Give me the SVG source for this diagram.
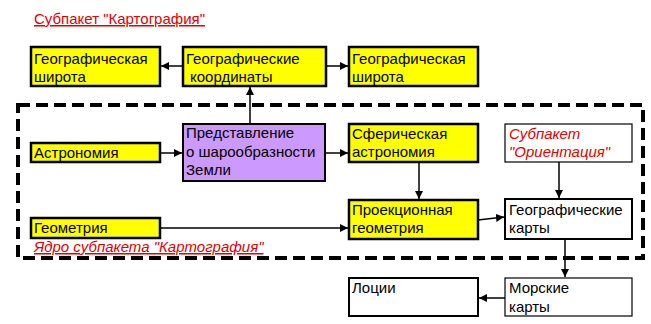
<svg xmlns="http://www.w3.org/2000/svg" width="651" height="324" viewBox="0 0 651 324">
<defs>
<style>
text{font-family:"Liberation Sans",Arial,sans-serif;font-size:15px;fill:#000}
.y{fill:#ffff00;stroke:#000;stroke-width:2.5}
.p{fill:#cc99ff;stroke:#000;stroke-width:2}
.w{fill:#fff;stroke:#000;stroke-width:2}
.wt{fill:#fff;stroke:#000;stroke-width:1.2}
.red{fill:#e00000}
.it{font-style:italic}
.c{stroke:#000;stroke-width:1.5;fill:none;marker-end:url(#a)}
</style>
<marker id="a" viewBox="0 0 10 10" refX="10" refY="5" markerWidth="8" markerHeight="8" markerUnits="userSpaceOnUse" orient="auto"><path d="M0,0 L10,5 L0,10 z" fill="#000"/></marker>
</defs>
<rect width="651" height="324" fill="#fff"/>
<g id="title"><text x="34" y="24" class="red" text-decoration="underline">Субпакет "Картография"</text></g>
<rect x="18" y="105" width="625" height="153" fill="none" stroke="#000" stroke-width="4" stroke-dasharray="12,6"/>
<g id="core-label"><text x="34" y="252" class="red it" text-decoration="underline">Ядро субпакета "Картография"</text></g>
<g id="connectors">
<line class="c" x1="183" y1="66" x2="161" y2="66"/>
<line class="c" x1="326" y1="66" x2="348" y2="66"/>
<line class="c" x1="250" y1="124" x2="250" y2="87"/>
<line class="c" x1="160" y1="153" x2="182" y2="153"/>
<line class="c" x1="325" y1="153" x2="348" y2="153"/>
<line class="c" x1="419" y1="162" x2="419" y2="199"/>
<line class="c" x1="559" y1="162" x2="559" y2="198"/>
<line class="c" x1="160" y1="228" x2="348" y2="228"/>
<line class="c" x1="478" y1="220" x2="504" y2="217"/>
<line class="c" x1="565" y1="239" x2="565" y2="277"/>
<line class="c" x1="505" y1="298" x2="479" y2="298"/>
</g>
<g id="lat1"><rect class="y" x="31" y="47" width="129" height="39"/><text x="34" y="64">Географическая</text><text x="34" y="82">широта</text></g>
<g id="coords"><rect class="y" x="183" y="47" width="143" height="39"/><text x="186" y="64">Географические</text><text x="190" y="82">координаты</text></g>
<g id="lat2"><rect class="y" x="349" y="47" width="129" height="39"/><text x="352" y="64">Географическая</text><text x="352" y="82">широта</text></g>
<g id="astro"><rect class="y" x="31" y="143" width="129" height="19"/><text x="34" y="158">Астрономия</text></g>
<g id="sphere"><rect class="p" x="183" y="124" width="142" height="57"/><text x="186" y="138">Представление</text><text x="186" y="157">о шарообразности</text><text x="186" y="175">Земли</text></g>
<g id="sphastro"><rect class="y" x="349" y="124" width="129" height="38"/><text x="352" y="139">Сферическая</text><text x="352" y="157">астрономия</text></g>
<g id="orient"><rect class="wt" x="505" y="124" width="127" height="38"/><text x="509" y="139" class="red it">Субпакет</text><text x="509" y="157" class="red it">"Ориентация"</text></g>
<g id="geom"><rect class="y" x="31" y="218" width="129" height="20"/><text x="34" y="233">Геометрия</text></g>
<g id="proj"><rect class="y" x="349" y="200" width="129" height="39"/><text x="352" y="215">Проекционная</text><text x="352" y="233">геометрия</text></g>
<g id="maps"><rect class="w" x="505" y="199" width="127" height="40"/><text x="509" y="215">Географические</text><text x="509" y="233">карты</text></g>
<g id="pilots"><rect class="w" x="349" y="278" width="129" height="38"/><text x="352" y="293">Лоции</text></g>
<g id="seamaps"><rect class="wt" x="505" y="278" width="127" height="38"/><text x="509" y="293">Морские</text><text x="509" y="312">карты</text></g>
</svg>
